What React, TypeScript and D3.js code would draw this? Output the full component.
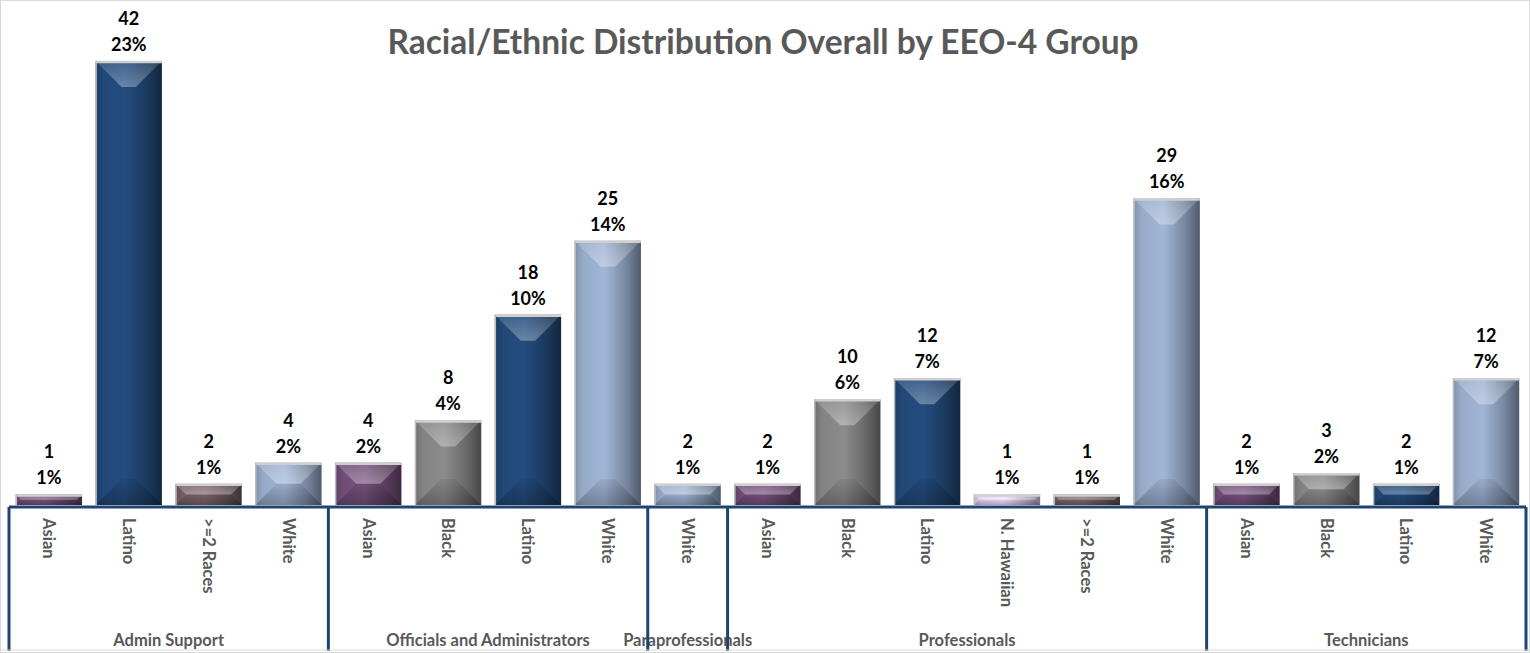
import React from "react"
import * as d3 from "d3"

// group / category / values
const groups = ["Admin Support", "Officials and Administrators", "Paraprofessionals", "Professionals", "Technicians"]
const groupCategories = [
  ["Asian", "Latino", ">=2 Races", "White"],
  ["Asian", "Black", "Latino", "White"],
  ["White"],
  ["Asian", "Black", "Latino", "N. Hawaiian", ">=2 Races", "White"],
  ["Asian", "Black", "Latino", "White"],
]
const counts = [1, 42, 2, 4, 4, 8, 18, 25, 2, 2, 10, 12, 1, 1, 29, 2, 3, 2, 12]
const percents = ["1%", "23%", "1%", "2%", "2%", "4%", "10%", "14%", "1%", "1%", "6%", "7%", "1%", "1%", "16%", "1%", "2%", "1%", "7%"]

const raceColors: Record<string, string> = {
  Asian: "#6a4870",
  Latino: "#1f4470",
  ">=2 Races": "#6e5a5e",
  White: "#8ea1be",
  Black: "#7c7c7c",
  "N. Hawaiian": "#d8c4ea",
}

const W = 1530
const H = 653
const FONT = "Lato, 'Open Sans', sans-serif"

export default function App() {
  const items: { key: string; cat: string; group: number; value: number; pct: string }[] = []
  let k = 0
  groupCategories.forEach((cats, gi) => {
    cats.forEach((c) => {
      items.push({ key: `${gi}-${c}`, cat: c, group: gi, value: counts[k], pct: percents[k] })
      k++
    })
  })

  const left = 9
  const right = 1526
  const baseline = 507
  const x = d3
    .scaleBand<string>()
    .domain(items.map((d) => d.key))
    .range([left, right])
    .paddingInner(0.17)
    .paddingOuter(0.085)
  const y = d3.scaleLinear().domain([0, 45]).range([baseline - 2, baseline - 2 - 45 * 10.57])

  const step = x.step()
  const bounds: number[] = [left]
  let acc = 0
  groupCategories.forEach((cats) => {
    acc += cats.length
    bounds.push(left + acc * step)
  })

  const raceKeys = Object.keys(raceColors)
  const gid = (r: string) => "g" + raceKeys.indexOf(r)

  return (
    <svg width={W} height={H} style={{ position: "absolute", left: 0, top: 0, background: "#fff" }}>
      <defs>
        {raceKeys.map((r) => {
          const c = d3.color(raceColors[r])!
          return (
            <linearGradient key={r} id={gid(r)} x1="0" x2="1" y1="0" y2="0">
              <stop offset="0%" stopColor={c.darker(0.3).toString()} />
              <stop offset="12%" stopColor={c.brighter(0.15).toString()} />
              <stop offset="45%" stopColor={c.brighter(0.35).toString()} />
              <stop offset="78%" stopColor={c.darker(0.5).toString()} />
              <stop offset="100%" stopColor={c.darker(1.6).toString()} />
            </linearGradient>
          )
        })}
        <linearGradient id="topBevel" x1="0" x2="0" y1="0" y2="1">
          <stop offset="0%" stopColor="#fff" stopOpacity={0.12} />
          <stop offset="100%" stopColor="#fff" stopOpacity={0.32} />
        </linearGradient>
        <linearGradient id="botBevel" x1="0" x2="0" y1="0" y2="1">
          <stop offset="0%" stopColor="#000" stopOpacity={0.06} />
          <stop offset="100%" stopColor="#000" stopOpacity={0.26} />
        </linearGradient>
      </defs>

      <rect x={0.5} y={0.5} width={W - 1} height={H - 1} fill="#fff" stroke="#d9d9d9" />

      <text x={763} y={54} textAnchor="middle" fontFamily={FONT} fontWeight="bold" fontSize={33.5} fill="#595959">
        Racial/Ethnic Distribution Overall by EEO-4 Group
      </text>

      {items.map((d) => {
        const bx = x(d.key)!
        const bw = x.bandwidth()
        const top = y(d.value)
        const bot = y(0)
        const h = bot - top
        const b = Math.min(26, h / 2, bw / 2)
        return (
          <g key={d.key}>
            <rect x={bx} y={top} width={bw} height={h} fill={`url(#${gid(d.cat)})`} />
            <polygon
              points={`${bx},${top} ${bx + bw},${top} ${bx + bw - b},${top + b} ${bx + b},${top + b}`}
              fill="url(#topBevel)"
            />
            <polygon
              points={`${bx},${bot} ${bx + bw},${bot} ${bx + bw - b},${bot - b} ${bx + b},${bot - b}`}
              fill="url(#botBevel)"
            />
            <line x1={bx} x2={bx + bw} y1={top + 1} y2={top + 1} stroke="#cfcfcf" strokeWidth={2.5} />
            <line x1={bx + 0.5} x2={bx + 0.5} y1={top} y2={bot} stroke="#bdbdbd" strokeWidth={1.5} />
            <text
              x={bx + bw / 2}
              y={top - 36}
              textAnchor="middle"
              fontFamily={FONT}
              fontWeight="bold"
              fontSize={18}
              fill="#000"
            >
              {d.value}
            </text>
            <text
              x={bx + bw / 2}
              y={top - 10}
              textAnchor="middle"
              fontFamily={FONT}
              fontWeight="bold"
              fontSize={18}
              fill="#000"
            >
              {d.pct}
            </text>
            <text
              transform={`translate(${bx + bw / 2},${baseline + 11}) rotate(90)`}
              dy="0.35em"
              fontFamily={FONT}
              fontWeight="bold"
              fontSize={16.5}
              fill="#595959"
            >
              {d.cat}
            </text>
          </g>
        )
      })}

      {groups.map((g, i) => (
        <text
          key={g}
          x={(bounds[i] + bounds[i + 1]) / 2}
          y={646}
          textAnchor="middle"
          fontFamily={FONT}
          fontWeight="bold"
          fontSize={16.5}
          fill="#595959"
        >
          {g}
        </text>
      ))}

      <line x1={left} x2={right} y1={baseline} y2={baseline} stroke="#1f4470" strokeWidth={3} />
      {bounds.map((bx, i) => (
        <line key={i} x1={bx} x2={bx} y1={baseline} y2={H - 2} stroke="#1f4470" strokeWidth={3} />
      ))}
      <line x1={0} x2={W} y1={H - 3} y2={H - 3} stroke="#d9d9d9" strokeWidth={1} />
    </svg>
  )
}
